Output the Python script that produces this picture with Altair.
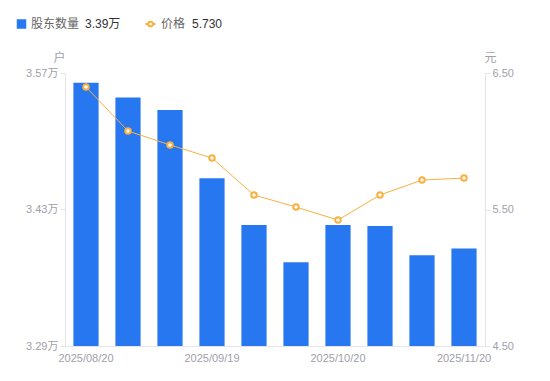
import altair as alt
import pandas as pd

dates = ["2025/08/20", "2025/08/31", "2025/09/10", "2025/09/19", "2025/09/30",
         "2025/10/10", "2025/10/20", "2025/10/31", "2025/11/10", "2025/11/20"]
holders = [3.560, 3.545, 3.532, 3.462, 3.414, 3.376, 3.414, 3.413, 3.383, 3.390]  # 万户
price = [6.397, 6.075, 5.973, 5.877, 5.606, 5.518, 5.423, 5.606, 5.716, 5.730]
shown_dates = ["2025/08/20", "2025/09/19", "2025/10/20", "2025/11/20"]
left_ticks = [3.29, 3.43, 3.57]
right_ticks = [4.50, 5.50, 6.50]
left_domain = [3.29, 3.57]
right_domain = [4.50, 6.50]

BLUE = "#2777F0"
ORANGE = "#F9B03F"
LABEL = "#9fa0aa"
DOMAIN = "#e4e4e4"
FONT = "Liberation Sans, Noto Sans CJK SC"

df = pd.DataFrame({"date": dates, "holders": holders, "price": price})
W, H = 420, 273

x = alt.X("date:O", sort=dates,
          scale=alt.Scale(paddingInner=0.4, paddingOuter=0.2),
          axis=alt.Axis(values=shown_dates, labelAngle=0, ticks=False, domainColor=DOMAIN,
                        labelColor=LABEL, labelFontSize=11, labelPadding=6, title=None,
                        labelFont=FONT, grid=False))

bars = alt.Chart(df).mark_bar(color=BLUE).encode(
    x=x,
    y=alt.Y("holders:Q", scale=alt.Scale(domain=left_domain, zero=False, nice=False),
            axis=alt.Axis(values=left_ticks, labelExpr="format(datum.value, '.2f') + '万'",
                          grid=False, domainColor=DOMAIN, tickColor=DOMAIN, tickSize=5,
                          labelColor=LABEL, labelFontSize=11, labelPadding=2, labelFont=FONT,
                          title="户", titleAngle=0, titleX=-6, titleY=-16, titleAlign="center",
                          titleBaseline="middle", titleColor=LABEL, titleFontWeight="normal",
                          titleFontSize=12, titleFont=FONT)),
    y2=alt.datum(left_domain[0]),
)

line = alt.Chart(df).mark_line(
    color=ORANGE, strokeWidth=1,
    point=alt.OverlayMarkDef(filled=False, fill="white", stroke=ORANGE, strokeWidth=2, size=30, opacity=1),
).encode(
    x=x,
    y=alt.Y("price:Q", scale=alt.Scale(domain=right_domain, zero=False, nice=False),
            axis=alt.Axis(values=right_ticks, format=".2f", orient="right",
                          grid=False, domainColor=DOMAIN, tickColor=DOMAIN, tickSize=5,
                          labelColor=LABEL, labelFontSize=11, labelPadding=2, labelFont=FONT,
                          title="元", titleAngle=0, titleX=5, titleY=-16, titleAlign="center",
                          titleBaseline="middle", titleColor=LABEL, titleFontWeight="normal",
                          titleFontSize=12, titleFont=FONT)),
)

leg = pd.DataFrame({"k": [0]})
ly = -49
legend_sq = alt.Chart(leg).mark_square(color=BLUE, size=90, opacity=1).encode(
    x=alt.value(-43.5), y=alt.value(ly))
legend_t1 = alt.Chart(leg).mark_text(text="股东数量", align="left", baseline="middle",
                                     fontSize=12, color="#666666", font=FONT).encode(
    x=alt.value(-34), y=alt.value(ly))
legend_v1 = alt.Chart(leg).mark_text(text="3.39万", align="left", baseline="middle",
                                     fontSize=12, color="#333333", font=FONT).encode(
    x=alt.value(20), y=alt.value(ly))
legend_ln = alt.Chart(leg).mark_rule(color=ORANGE, strokeWidth=2).encode(
    x=alt.value(80.5), x2=alt.value(90.5), y=alt.value(ly))
legend_pt = alt.Chart(leg).mark_point(filled=False, fill="white", stroke=ORANGE, strokeWidth=2,
                                      size=22, opacity=1).encode(
    x=alt.value(85.5), y=alt.value(ly))
legend_t2 = alt.Chart(leg).mark_text(text="价格", align="left", baseline="middle",
                                     fontSize=12, color="#666666", font=FONT).encode(
    x=alt.value(96), y=alt.value(ly))
legend_v2 = alt.Chart(leg).mark_text(text="5.730", align="left", baseline="middle",
                                     fontSize=12, color="#333333", font=FONT).encode(
    x=alt.value(127), y=alt.value(ly))

chart = alt.layer(bars, line, legend_sq, legend_t1, legend_v1, legend_ln, legend_pt,
                  legend_t2, legend_v2).resolve_scale(y="independent").properties(
    width=W, height=H,
    autosize=alt.AutoSizeParams(type="none"),
    padding={"left": 57, "top": 65, "right": 57, "bottom": 27},
).configure_view(stroke=None)

chart.save("out.html", embed_options={"renderer": "svg", "actions": False})
